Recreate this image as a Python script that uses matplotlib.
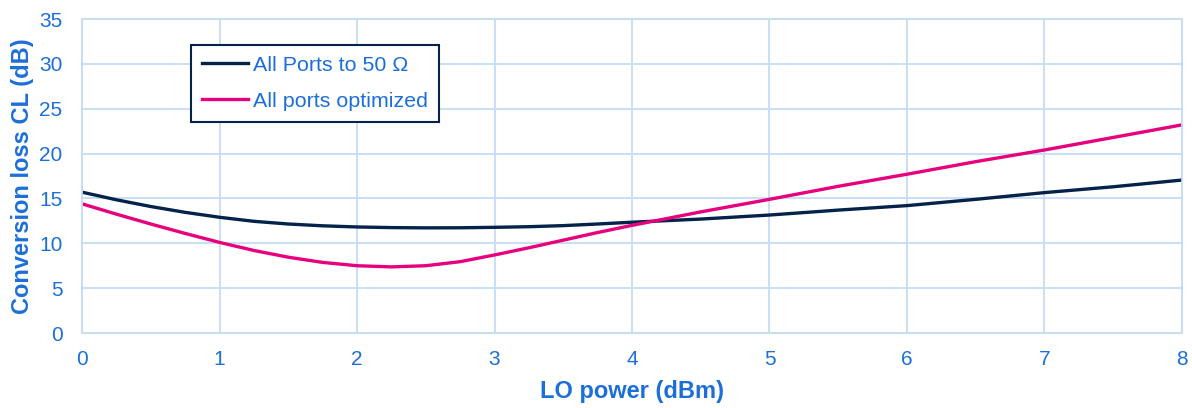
import matplotlib.pyplot as plt

# LO power sweep (dBm) and conversion loss (dB)
lo_power = [0, 0.25, 0.5, 0.75, 1, 1.25, 1.5, 1.75, 2, 2.25, 2.5, 2.75, 3,
            3.25, 3.5, 3.75, 4, 4.5, 5, 5.5, 6, 6.5, 7, 7.5, 8]
cl_50ohm = [15.7, 14.85, 14.1, 13.45, 12.9, 12.45, 12.15, 11.95, 11.82, 11.75,
            11.72, 11.73, 11.78, 11.85, 11.97, 12.15, 12.35, 12.7, 13.15,
            13.7, 14.2, 14.9, 15.65, 16.3, 17.05]
cl_optimized = [14.4, 13.25, 12.15, 11.1, 10.1, 9.2, 8.45, 7.87, 7.5, 7.37,
                7.5, 7.95, 8.7, 9.5, 10.35, 11.2, 12.0, 13.5, 14.9, 16.35,
                17.7, 19.1, 20.4, 21.8, 23.2]
labels = ["All Ports to 50 \u03a9", "All ports optimized"]

blue = "#1c6fd8"
grid_col = "#c5dcf6"

plt.rcParams['font.family'] = ['Liberation Sans', 'DejaVu Sans']

fig = plt.figure(figsize=(11.92, 4.08), dpi=100)
ax = fig.add_axes([0.0688, 0.1838, 0.9228, 0.7696])

ax.plot(lo_power, cl_50ohm, color="#04224a", lw=2.4, label=labels[0])
ax.plot(lo_power, cl_optimized, color="#e6007e", lw=2.4, label=labels[1])

ax.set_xlim(0, 8)
ax.set_ylim(0, 35)
ax.set_xticks(range(0, 9))
ax.set_yticks(range(0, 36, 5))
ax.grid(True, color=grid_col, lw=1.3)
ax.set_axisbelow(True)
for s in ax.spines.values():
    s.set_color(grid_col)
    s.set_linewidth(1.3)
ax.tick_params(length=0, labelsize=15, labelcolor=blue)
ax.tick_params(axis='x', pad=12)
ax.tick_params(axis='y', pad=14)

ax.set_xlabel("LO power (dBm)", fontsize=17, fontweight='bold', color=blue, labelpad=8)
ax.set_ylabel("Conversion loss CL (dB)", fontsize=17, fontweight='bold', color=blue, labelpad=4)

# legend box sits in the upper left, square corners, navy frame
leg = ax.legend(loc='upper left', bbox_to_anchor=(0.099, 0.917), borderaxespad=0,
                fontsize=15.4, fancybox=False, framealpha=1, handlelength=2.15,
                labelspacing=0.8, borderpad=0.5, handletextpad=0.25)
leg.get_frame().set_edgecolor("#04224a")
leg.get_frame().set_linewidth(1.5)
for t in leg.get_texts():
    t.set_color(blue)

fig.savefig("out.png", dpi=100)
